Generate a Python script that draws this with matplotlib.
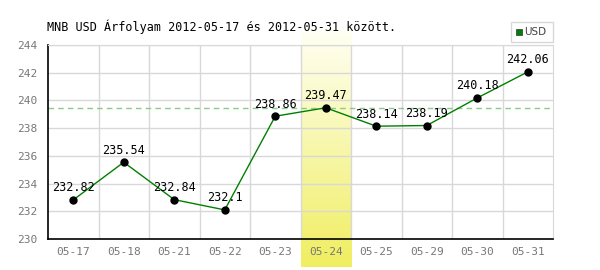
import matplotlib
matplotlib.use("Agg")
import matplotlib.pyplot as plt
import numpy as np
from matplotlib.colors import LinearSegmentedColormap
from matplotlib.patches import Rectangle

dates = ["05-17", "05-18", "05-21", "05-22", "05-23", "05-24", "05-25", "05-29", "05-30", "05-31"]
values = [232.82, 235.54, 232.84, 232.1, 238.86, 239.47, 238.14, 238.19, 240.18, 242.06]
value_labels = ["232.82", "235.54", "232.84", "232.1", "238.86", "239.47", "238.14", "238.19", "240.18", "242.06"]
yticks = [230, 232, 234, 236, 238, 240, 242, 244]
highlight_idx = 5
ref_value = 239.47
title = "MNB USD Árfolyam 2012-05-17 és 2012-05-31 között."
series_name = "USD"

plt.rcParams['font.family'] = ['DejaVu Sans Mono']

fig = plt.figure(figsize=(6, 2.7), dpi=100)
ax = fig.add_axes([48/600, 1-239/270, 505/600, 194/270])

x = np.arange(len(dates))
ymin, ymax = 230, 244
px_per_unit = 194 / 14.0

grad = np.linspace(0, 1, 256).reshape(-1, 1)
cmap = LinearSegmentedColormap.from_list("hl", ["#fffff4", "#f0ee60"])
band_top = ymax + 15 / px_per_unit
band_bot = ymin - 28 / px_per_unit
im = ax.imshow(grad, extent=(highlight_idx - 0.5, highlight_idx + 0.5, band_bot, band_top),
               origin="upper", aspect="auto", cmap=cmap, zorder=0)
im.set_clip_on(False)

ax.set_xlim(-0.5, len(dates) - 0.5)
ax.set_ylim(ymin, ymax)

for xv in np.arange(0.5, len(dates) - 0.5, 1):
    ax.axvline(xv, color="#d8d8d8", lw=1, zorder=1)
for yv in yticks[1:]:
    ax.axhline(yv, color="#d8d8d8", lw=1, zorder=1)

ax.axhline(ref_value, color="#88cc88", lw=1, ls=(0, (4, 3)), zorder=2)

ax.plot(x, values, color="#008000", lw=1, zorder=3)
ax.plot(x, values, "o", color="black", ms=5, zorder=4)

for xi, v, lab in zip(x, values, value_labels):
    ax.annotate(lab, (xi, v), xytext=(0, 4), textcoords="offset points",
                ha="center", va="bottom", fontsize=8.5, color="black", zorder=5)

ax.set_xticks(x)
ax.set_xticklabels(dates)
ax.set_yticks(yticks)
ax.tick_params(length=0, colors="#777777", labelsize=8, pad=6)
ax.tick_params(axis="y", pad=8)

for s in ["top", "right"]:
    ax.spines[s].set_color("#d8d8d8")
for s in ["left", "bottom"]:
    ax.spines[s].set_color("black")
    ax.spines[s].set_linewidth(1.2)
ax.patch.set_alpha(0)

fig.text(47/600, 1-27/270, title, fontsize=8.5, va="center", ha="left", color="black")

fig.patches.append(Rectangle((511/600, 1-42/270), 42/600, 20/270, transform=fig.transFigure,
                             facecolor="white", edgecolor="#d8d8d8", lw=1))
fig.patches.append(Rectangle((516/600, 1-35/270), 6/600, 6/270, transform=fig.transFigure,
                             facecolor="#008000", edgecolor="#333333", lw=0.5))
fig.text(524/600, 1-32/270, series_name, fontsize=7.5, va="center", ha="left", color="#444444",
         family="DejaVu Sans")

fig.savefig("out.png", dpi=100)
